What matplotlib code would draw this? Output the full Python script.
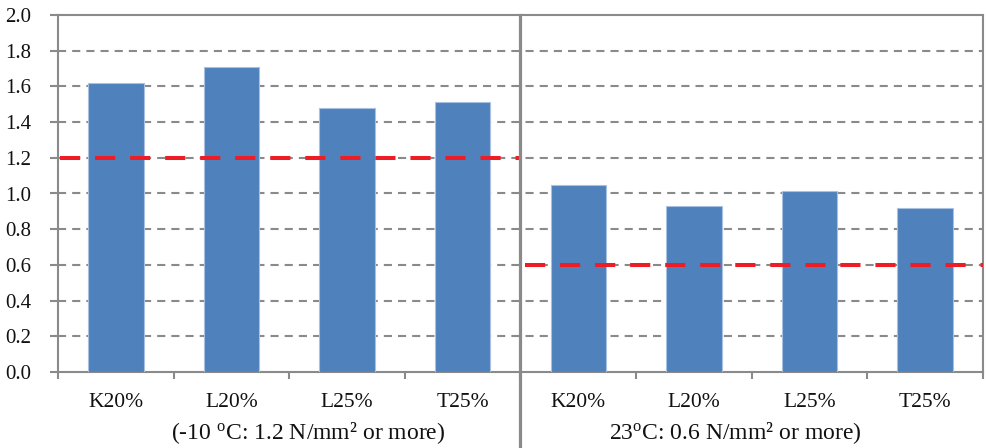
import matplotlib
matplotlib.use("Agg")
import matplotlib.pyplot as plt

plt.rcParams['font.family'] = ['Liberation Serif', 'DejaVu Serif']
plt.rcParams['mathtext.fontset'] = 'custom'
plt.rcParams['mathtext.rm'] = 'Liberation Serif'
plt.rcParams['mathtext.it'] = 'Liberation Serif:italic'

# Bond strength by mixture, two test temperatures
categories = ["K20%", "L20%", "L25%", "T25%", "K20%", "L20%", "L25%", "T25%"]
values = [1.62, 1.71, 1.48, 1.515, 1.05, 0.93, 1.015, 0.92]
thresholds = [1.2, 0.6]            # required value per temperature group
group_labels = [r"(-10 $^{\rm o}$C: 1.2 N/mm² or more)",
                r"23$^{\rm o}$C: 0.6 N/mm² or more)"]
yticks = [0.0, 0.2, 0.4, 0.6, 0.8, 1.0, 1.2, 1.4, 1.6, 1.8, 2.0]

GRAY = "#8a8a8a"
BLUE = "#4f81bd"
RED = "#ee1d25"

fig = plt.figure(figsize=(9.87, 4.48), dpi=100)
ax = fig.add_axes([58 / 987, 1 - 372 / 448, (983 - 58) / 987, (372 - 15) / 448])

x = list(range(len(categories)))
ax.bar(x, values, width=0.48, color=BLUE, edgecolor="#a9c1e0", linewidth=0.8, zorder=3)

ax.set_xlim(-0.5, len(categories) - 0.5)
ax.set_ylim(0, 2.0)
ax.set_yticks(yticks)
ax.set_yticklabels([f"{v:.1f}" for v in yticks])

# dashed horizontal gridlines
for v in yticks[1:-1]:
    ax.axhline(v, color=GRAY, lw=1.5, linestyle=(0, (3.9, 2.9)), zorder=1)

# threshold lines for each group
n = len(categories) // 2
for g, thr in enumerate(thresholds):
    x0 = g * n - 0.5
    x1 = x0 + n
    ax.plot([x0 + (0.02 if g == 0 else 0.04), x1], [thr, thr], color=RED, lw=2.9,
            linestyle=(0, (5.0, 3.7)), zorder=4, solid_capstyle='butt')

# group divider extending below the axis
ax.plot([n - 0.5, n - 0.5], [-0.215, 1.0], transform=ax.get_xaxis_transform(),
        color=GRAY, lw=2.3, clip_on=False, zorder=5)

# group captions
for g, lab in enumerate(group_labels):
    xc = [1.66, 5.36][g]
    ax.text(xc, -0.17, lab, transform=ax.get_xaxis_transform(),
            ha="center", va="center", fontsize=17, color="#111111")

for side in ["left", "bottom", "top", "right"]:
    ax.spines[side].set_color(GRAY)
    ax.spines[side].set_linewidth(1.5)

ax.set_xticks(x)
ax.set_xticklabels(categories)
ax.set_xticks([i - 0.5 for i in range(len(categories) + 1)], minor=True)
ax.tick_params(axis="x", which="major", length=0, pad=15, labelsize=15.5, labelcolor="#111111")
ax.tick_params(axis="x", which="minor", length=5, width=1.5, color=GRAY, direction="out")
ax.tick_params(axis="y", length=6, width=1.5, color=GRAY, pad=13, labelsize=15,
               labelcolor="#111111")

fig.savefig("out.png", dpi=100)
